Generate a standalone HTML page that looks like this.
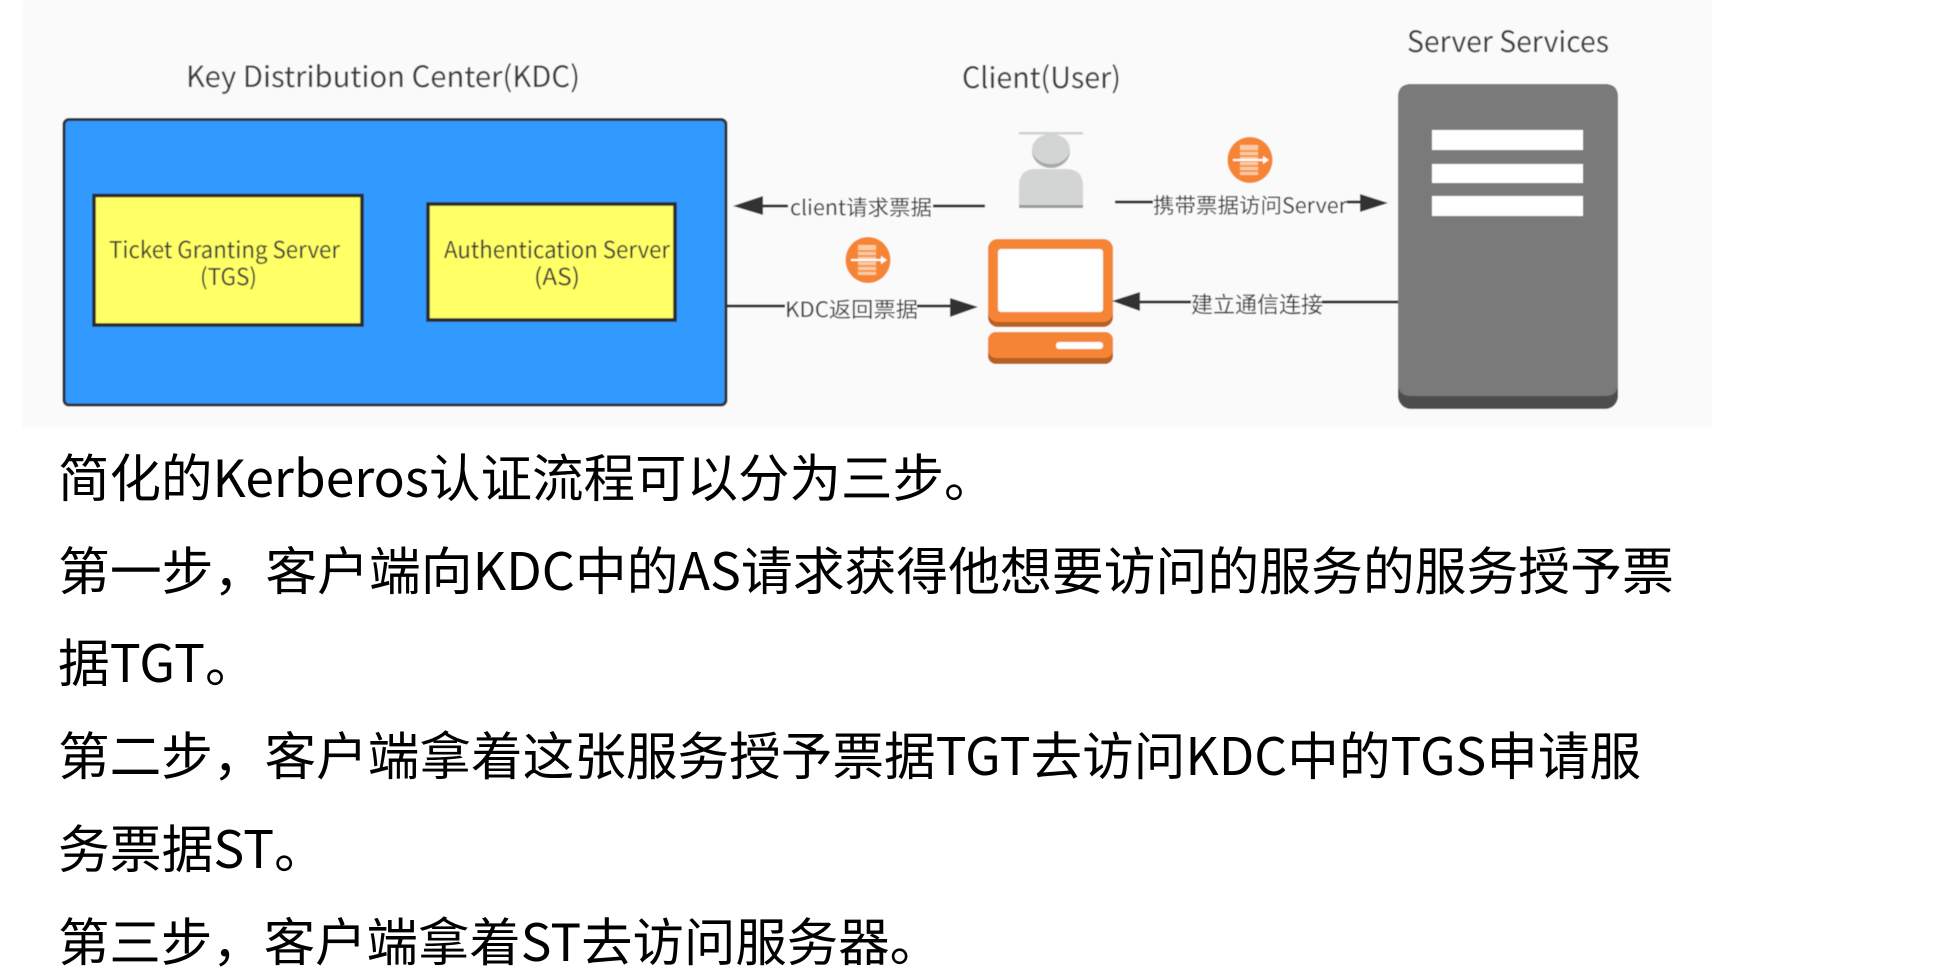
<!DOCTYPE html>
<html><head><meta charset="utf-8">
<style>
html,body{margin:0;padding:0;background:#fff;width:1944px;height:976px;overflow:hidden}
svg{display:block}
text{font-family:"Noto Sans CJK SC","Liberation Sans",sans-serif}
.d{fill:#3a3a3a}
.b{fill:#000;font-size:51.8px}
</style></head><body>
<svg width="1944" height="976" viewBox="0 0 1944 976" xmlns="http://www.w3.org/2000/svg">
<defs>
<filter id="soft" x="0" y="0" width="100%" height="100%"><feGaussianBlur stdDeviation="0.5"/></filter>
<g id="badge">
<ellipse cx="0" cy="0" rx="22.5" ry="23" fill="#f58534"/>
<rect x="-10" y="-15" width="18" height="30" fill="#fbc9a3"/>
<path d="M-10 -9H8M-10 -4H8M-10 1H8M-10 6H8M-10 11H8" stroke="#f58534" stroke-width="1.5"/>
<path d="M-17 0H14" stroke="#fff" stroke-width="2"/>
<path d="M13 -4L19 0L13 4Z" fill="#fff"/>
</g>
</defs>
<g filter="url(#soft)">
<rect x="22" y="0" width="1690" height="428" fill="#fafafa"/>

<!-- KDC -->
<rect x="64" y="119.500" width="662" height="285.500" rx="5" fill="#3399ff" stroke="#333" stroke-width="3"/>
<rect x="94" y="195.500" width="268" height="129.500" fill="#ffff66" stroke="#2a2a2a" stroke-width="3.500"/>
<rect x="428" y="204" width="247" height="116" fill="#ffff66" stroke="#2a2a2a" stroke-width="3.500"/>

<text class="d" x="186" y="87" font-size="29" textLength="394" lengthAdjust="spacingAndGlyphs">Key Distribution Center(KDC)</text>
<text class="d" x="962" y="88" font-size="29" textLength="159" lengthAdjust="spacingAndGlyphs">Client(User)</text>
<text class="d" x="1407" y="52" font-size="29" textLength="202" lengthAdjust="spacingAndGlyphs">Server Services</text>

<text class="d" x="109" y="258" font-size="23" textLength="231" lengthAdjust="spacingAndGlyphs">Ticket Granting Server</text>
<text class="d" x="200" y="285" font-size="23" textLength="57" lengthAdjust="spacingAndGlyphs">(TGS)</text>
<text class="d" x="444" y="258" font-size="23" textLength="226" lengthAdjust="spacingAndGlyphs">Authentication Server</text>
<text class="d" x="534" y="285" font-size="23" textLength="46" lengthAdjust="spacingAndGlyphs">(AS)</text>

<!-- Server -->
<rect x="1398" y="84" width="220" height="325" rx="13" fill="#4d4d4d"/>
<path d="M1398 97Q1398 84 1411 84H1605Q1618 84 1618 97V383Q1618 396 1605 396H1411Q1398 396 1398 383Z" fill="#7a7a7a"/>
<rect x="1432" y="130" width="151" height="20" fill="#fff"/>
<rect x="1432" y="164" width="151" height="19" fill="#fff"/>
<rect x="1432" y="196" width="151" height="20" fill="#fff"/>

<!-- Person -->
<rect x="1019" y="132" width="64" height="2.500" fill="#cfd1d1"/>
<ellipse cx="1051" cy="151" rx="19" ry="17" fill="#a9abab"/>
<ellipse cx="1051" cy="149" rx="19" ry="15" fill="#d3d5d5"/>
<path d="M1019 208V186Q1019 169 1036 169H1066Q1083 169 1083 186V208Z" fill="#d3d5d5"/>
<rect x="1019" y="205" width="64" height="3" fill="#9a9c9c"/>

<!-- Computer -->
<rect x="988" y="239" width="125" height="88" rx="10" fill="#b85f22"/>
<rect x="988" y="239" width="125" height="83" rx="10" fill="#f58534"/>
<rect x="998" y="249" width="105" height="63" rx="3" fill="#fff"/>
<rect x="988" y="332" width="125" height="32" rx="8" fill="#b85f22"/>
<rect x="988" y="332" width="125" height="26" rx="8" fill="#f58534"/>
<rect x="1056" y="342" width="47" height="7" rx="3" fill="#fff"/>

<!-- Badges -->
<use href="#badge" x="1250" y="160"/>
<use href="#badge" x="868" y="260"/>

<!-- Arrows -->
<path d="M985 206H760" stroke="#333" stroke-width="3"/>
<path d="M733 206L763 196V215Z" fill="#333"/>
<rect x="788" y="192" width="145" height="26" fill="#fafafa"/>
<text class="d" x="790" y="215" font-size="21" textLength="142" lengthAdjust="spacingAndGlyphs">client请求票据</text>

<path d="M1115 202H1362" stroke="#333" stroke-width="3"/>
<path d="M1388 203L1360 194V212Z" fill="#333"/>
<rect x="1153" y="189" width="194" height="26" fill="#fafafa"/>
<text class="d" x="1153" y="213" font-size="21" textLength="194" lengthAdjust="spacingAndGlyphs">携带票据访问Server</text>

<path d="M727 306H952" stroke="#333" stroke-width="3"/>
<path d="M978 307L950 298V317Z" fill="#333"/>
<rect x="785" y="293" width="132" height="27" fill="#fafafa"/>
<text class="d" x="785" y="317" font-size="21" textLength="133" lengthAdjust="spacingAndGlyphs">KDC返回票据</text>

<path d="M1398 302H1138" stroke="#333" stroke-width="3"/>
<path d="M1112 301L1140 292V311Z" fill="#333"/>
<rect x="1191" y="288" width="131" height="27" fill="#fafafa"/>
<text class="d" x="1191" y="312.500" font-size="22" textLength="132" lengthAdjust="spacingAndGlyphs">建立通信连接</text>
</g>

<!-- Body text -->
<text class="b" x="58" y="497" style="font-size:51.5px">简化的Kerberos认证流程可以分为三步。</text>
<text class="b" x="58" y="590" style="font-size:51.84px">第一步，客户端向KDC中的AS请求获得他想要访问的服务的服务授予票</text>
<text class="b" x="58" y="682">据TGT。</text>
<text class="b" x="58" y="775" style="font-size:51.64px">第二步，客户端拿着这张服务授予票据TGT去访问KDC中的TGS申请服</text>
<text class="b" x="58" y="868">务票据ST。</text>
<text class="b" x="58" y="961" style="font-size:51.43px">第三步，客户端拿着ST去访问服务器。</text>
</svg>
</body></html>
